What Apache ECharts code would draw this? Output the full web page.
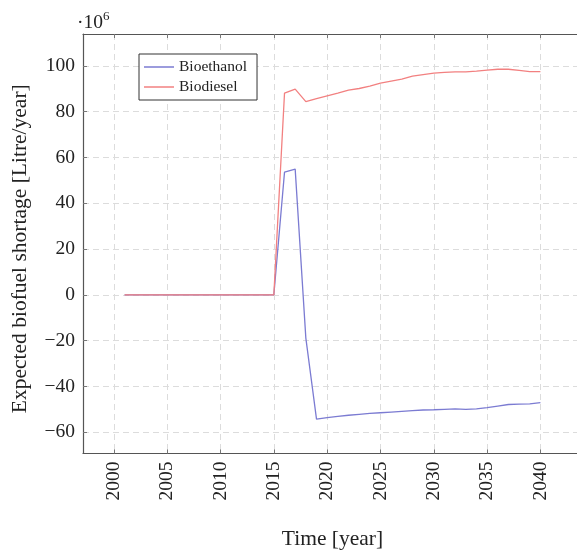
<!DOCTYPE html>
<html>
<head>
<meta charset="utf-8">
<script src="https://cdn.jsdelivr.net/npm/echarts@6/dist/echarts.min.js"></script>
<style>html,body{margin:0;padding:0;background:#fff}#c{width:577px;height:552px}</style>
</head>
<body>
<div id="c"></div>
<script>
const years = [2001,2002,2003,2004,2005,2006,2007,2008,2009,2010,2011,2012,2013,2014,2015,2016,2017,2018,2019,2020,2021,2022,2023,2024,2025,2026,2027,2028,2029,2030,2031,2032,2033,2034,2035,2036,2037,2038,2039,2040];
const bioethanol = [0,0,0,0,0,0,0,0,0,0,0,0,0,0,0,53.6,54.9,-18.9,-54.3,-53.6,-53.1,-52.6,-52.2,-51.8,-51.5,-51.2,-50.9,-50.6,-50.3,-50.2,-50.0,-49.8,-50.0,-49.8,-49.3,-48.6,-47.9,-47.7,-47.6,-47.1];
const biodiesel = [0,0,0,0,0,0,0,0,0,0,0,0,0,0,0,88.1,89.8,84.4,85.7,86.9,88.1,89.4,90.1,91.1,92.4,93.3,94.2,95.5,96.2,96.8,97.1,97.4,97.4,97.7,98.1,98.5,98.5,98.0,97.5,97.5];
const xTicks = [2000,2005,2010,2015,2020,2025,2030,2035,2040];
const yTicks = [-60,-40,-20,0,20,40,60,80,100];
const seriesNames = ['Bioethanol','Biodiesel'];

const FONT = 'Liberation Serif';
const chart = echarts.init(document.getElementById('c'), null, {renderer:'canvas'});
const xr = [1997.1, 2043.9];
const yr = [-69.3, 113.9];
const gridLine = {show:true, lineStyle:{color:'#dcdcdc', type:[6,4], width:1}};
const axisLine = {show:true, onZero:false, lineStyle:{color:'#555', width:1.2}};
function xAxis(pos, main){
  return {
    type:'value', position:pos, min:xr[0], max:xr[1],
    axisLine:axisLine,
    axisTick:{show:true, inside:true, length:4, customValues:xTicks, lineStyle:{color:'#777'}},
    axisLabel:{show:main, customValues:xTicks, rotate:90, margin:8, fontFamily:FONT, fontSize:19.5, color:'#222', formatter:v=>String(v)},
    splitLine: main ? gridLine : {show:false},
    name: main ? 'Time [year]' : '', nameLocation:'middle', nameGap:75,
    nameTextStyle:{fontFamily:FONT, fontSize:21.5, color:'#222'}
  };
}
function yAxis(pos, main){
  return {
    type:'value', position:pos, min:yr[0], max:yr[1],
    axisLine:axisLine,
    axisTick:{show:true, inside:true, length:4, customValues:yTicks, lineStyle:{color:'#777'}},
    axisLabel:{show:main, customValues:yTicks, margin:8, fontFamily:FONT, fontSize:19.5, color:'#222',
      formatter:v=> v<0 ? '\u2212'+Math.abs(v) : String(v)},
    splitLine: main ? gridLine : {show:false},
    name: main ? 'Expected biofuel shortage [Litre/year]' : '', nameLocation:'middle', nameGap:52,
    nameTextStyle:{fontFamily:FONT, fontSize:21.5, color:'#222', padding:[0,10,0,0]}
  };
}
chart.setOption({
  animation:false,
  grid:{left:83, top:34, right:-5, bottom:98.5, containLabel:false, outerBoundsMode:'none'},
  xAxis:[xAxis('bottom', true), xAxis('top', false)],
  yAxis:[yAxis('left', true), yAxis('right', false)],
  legend:{
    data:seriesNames, orient:'vertical', left:139, top:54,
    backgroundColor:'#fff', borderColor:'#333', borderWidth:1, borderRadius:0,
    padding:[5,10,5,5], itemGap:4, itemWidth:30, itemHeight:1.5, icon:'rect',
    textStyle:{fontFamily:FONT, fontSize:15.5, color:'#222'}
  },
  graphic:[{
    type:'text', left:77, top:10,
    style:{text:'{a|\u00b710}{b|6}', rich:{
      a:{fontFamily:FONT, fontSize:19.5, fill:'#222', verticalAlign:'bottom'},
      b:{fontFamily:FONT, fontSize:13, fill:'#222', verticalAlign:'top', padding:[0,0,10,0]}
    }}
  }],
  series:[
    {name:seriesNames[0], type:'line', data:years.map((y,i)=>[y,bioethanol[i]]), showSymbol:false, symbol:'none',
     lineStyle:{color:'#7b7bd2', width:1.3}, itemStyle:{color:'#7b7bd2'}, z:2},
    {name:seriesNames[1], type:'line', data:years.map((y,i)=>[y,biodiesel[i]]), showSymbol:false, symbol:'none',
     lineStyle:{color:'#f28080', width:1.3}, itemStyle:{color:'#f28080'}, z:3}
  ]
});
</script>
</body>
</html>
